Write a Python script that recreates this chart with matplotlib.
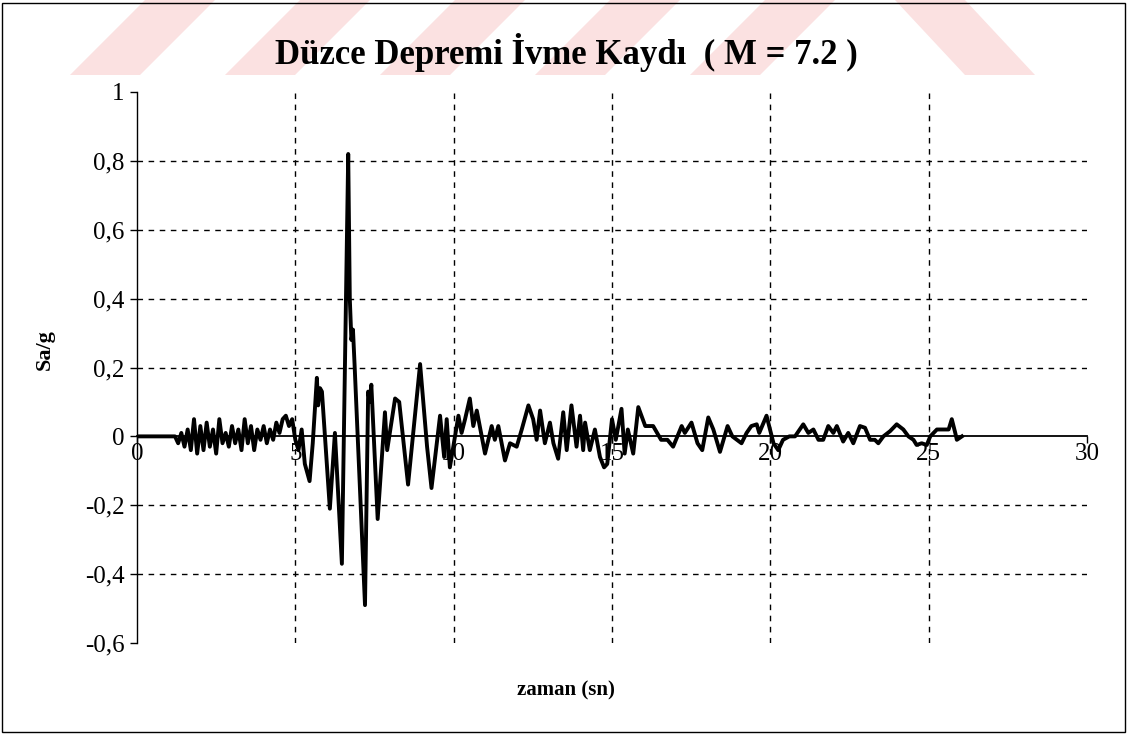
import matplotlib.pyplot as plt
from matplotlib.patches import Polygon, Rectangle

# ─── Veri ────────────────────────────────────────────────────────────────────

zaman = [0, 1.2, 1.3, 1.4, 1.5, 1.6, 1.7, 1.8, 1.9, 2.0, 2.1, 2.2, 2.3, 2.4, 2.5,
         2.6, 2.7, 2.8, 2.9, 3.0, 3.1, 3.2, 3.3, 3.4, 3.5, 3.6, 3.7, 3.8, 3.9, 4.0,
         4.1, 4.2, 4.3, 4.4, 4.5, 4.6, 4.7, 4.8, 4.9, 5.0, 5.1, 5.2, 5.3, 5.45, 5.55,
         5.68, 5.72, 5.78, 5.84, 6.09, 6.25, 6.47, 6.67, 6.72, 6.77, 6.82, 6.87, 7.2,
         7.3, 7.35, 7.4, 7.6, 7.83, 7.9, 8.0, 8.15, 8.28, 8.56, 8.94, 9.16, 9.3, 9.57,
         9.7, 9.78, 9.88, 10.15, 10.25, 10.36, 10.51, 10.62, 10.73, 10.99, 11.2, 11.3,
         11.41, 11.62, 11.78, 11.99, 12.15, 12.36, 12.51, 12.62, 12.73, 12.88, 13.04,
         13.15, 13.3, 13.46, 13.57, 13.72, 13.88, 13.99, 14.09, 14.15, 14.3, 14.46,
         14.62, 14.75, 14.85, 15.0, 15.12, 15.3, 15.4, 15.5, 15.67, 15.83, 16.05, 16.3,
         16.55, 16.75, 16.93, 17.2, 17.3, 17.51, 17.7, 17.85, 18.04, 18.2, 18.41, 18.65,
         18.8, 19.09, 19.25, 19.4, 19.57, 19.65, 19.88, 20.1, 20.25, 20.4, 20.6, 20.78,
         21.04, 21.2, 21.36, 21.52, 21.67, 21.83, 21.99, 22.1, 22.3, 22.46, 22.62,
         22.83, 22.99, 23.15, 23.3, 23.41, 23.57, 23.78, 23.99, 24.2, 24.36, 24.52,
         24.62, 24.78, 24.94, 25.05, 25.26, 25.47, 25.63, 25.73, 25.84, 25.89, 26.05]

ivme = [0, 0, -0.02, 0.01, -0.03, 0.02, -0.04, 0.05, -0.05, 0.03, -0.04, 0.04, -0.03,
        0.02, -0.05, 0.05, -0.02, 0.01, -0.03, 0.03, -0.02, 0.02, -0.04, 0.05, -0.02,
        0.03, -0.04, 0.02, -0.01, 0.03, -0.02, 0.02, -0.01, 0.04, 0.01, 0.05, 0.06,
        0.03, 0.05, -0.01, -0.04, 0.02, -0.08, -0.13, -0.02, 0.17, 0.09, 0.14, 0.13,
        -0.21, 0.01, -0.37, 0.82, 0.40, 0.28, 0.31, 0.21, -0.49, 0.13, 0.10, 0.15,
        -0.24, 0.07, -0.04, 0.02, 0.11, 0.10, -0.14, 0.21, -0.03, -0.15, 0.06, -0.06,
        0.05, -0.09, 0.06, 0.01, 0.05, 0.11, 0.03, 0.075, -0.05, 0.03, -0.01, 0.03,
        -0.07, -0.02, -0.03, 0.02, 0.09, 0.05, -0.01, 0.075, -0.02, 0.04, -0.02,
        -0.065, 0.07, -0.04, 0.09, -0.03, 0.06, -0.04, 0.04, -0.04, 0.02, -0.06,
        -0.09, -0.08, 0.05, -0.01, 0.08, -0.05, 0.02, -0.05, 0.085, 0.03, 0.03, -0.01,
        -0.01, -0.03, 0.03, 0.01, 0.04, -0.02, -0.04, 0.055, 0.02, -0.045, 0.03, 0.0,
        -0.02, 0.01, 0.03, 0.035, 0.01, 0.06, -0.02, -0.04, -0.01, 0.0, 0.0, 0.035,
        0.01, 0.02, -0.01, -0.01, 0.03, 0.01, 0.03, -0.015, 0.01, -0.02, 0.03, 0.025,
        -0.01, -0.01, -0.02, 0.0, 0.015, 0.035, 0.02, 0.0, -0.01, -0.025, -0.02,
        -0.025, 0.0, 0.02, 0.02, 0.02, 0.05, 0.01, -0.01, 0.0]

x_ticks = [0, 5, 10, 15, 20, 25, 30]
y_ticks = [-0.6, -0.4, -0.2, 0, 0.2, 0.4, 0.6, 0.8, 1]
x_grid = [5, 10, 15, 20, 25]
y_grid = [-0.4, -0.2, 0.2, 0.4, 0.6, 0.8]

baslik = 'Düzce Depremi İvme Kaydı  ( M = 7.2 )'

# ─── Grafik ──────────────────────────────────────────────────────────────────

plt.rcParams['font.family'] = ['Liberation Serif', 'DejaVu Serif']

W, H = 1128, 734
fig = plt.figure(figsize=(W / 100, H / 100), dpi=100)

# filigran şeritleri (üst kısım)
pembe = '#fbe1e1'
for k in range(5):
    x0 = 70 + 155 * k
    pts = [(x0, 75), (x0 + 70, 75), (x0 + 145, 0), (x0 + 75, 0)]
    fig.patches.append(Polygon([(px / W, 1 - py / H) for px, py in pts],
                               closed=True, transform=fig.transFigure,
                               facecolor=pembe, edgecolor='none', zorder=0))
pts = [(895, 0), (965, 0), (1035, 75), (965, 75)]
fig.patches.append(Polygon([(px / W, 1 - py / H) for px, py in pts],
                           closed=True, transform=fig.transFigure,
                           facecolor=pembe, edgecolor='none', zorder=0))

# dış çerçeve
fig.patches.append(Rectangle((2 / W, 2 / H), 1 - 5 / W, 1 - 5 / H,
                             transform=fig.transFigure, fill=False,
                             edgecolor='black', lw=1.0))

ax = fig.add_axes([137 / W, 1 - 643 / H, (1087 - 137) / W, (643 - 92) / H])
ax.patch.set_alpha(0)

for v in x_grid:
    ax.plot([v, v], [-0.6, 1], color='black', lw=1.0, ls=(0, (4, 4)), zorder=1)
for v in y_grid:
    ax.plot([0, 30], [v, v], color='black', lw=1.0, ls=(0, (4, 4)), zorder=1)

ax.plot(zaman, ivme, color='black', lw=2.8, zorder=3, solid_joinstyle='round')

ax.set_xlim(0, 30)
ax.set_ylim(-0.6, 1)
ax.spines['top'].set_visible(False)
ax.spines['right'].set_visible(False)
ax.spines['bottom'].set_position(('data', 0))
ax.spines['bottom'].set_linewidth(1.3)
ax.spines['left'].set_linewidth(1.0)

ax.set_xticks(x_ticks)
ax.set_xticklabels([str(v) for v in x_ticks])
ax.set_yticks(y_ticks)
ax.set_yticklabels([('%g' % v).replace('.', ',') for v in y_ticks])
ax.tick_params(axis='both', direction='out', length=5, width=1.0,
               labelsize=18, colors='black')
ax.tick_params(axis='x', pad=0)
ax.tick_params(axis='y', pad=4)

fig.text(566 / W, 1 - 52 / H, baslik, ha='center', va='center',
         fontsize=25, fontweight='bold')
fig.text(45 / W, 1 - 350 / H, 'Sa/g', ha='center', va='center', rotation=90,
         fontsize=16, fontweight='bold')
fig.text(566 / W, 1 - 690 / H, 'zaman (sn)', ha='center', va='center',
         fontsize=15, fontweight='bold')

plt.savefig('out.png', dpi=100)
